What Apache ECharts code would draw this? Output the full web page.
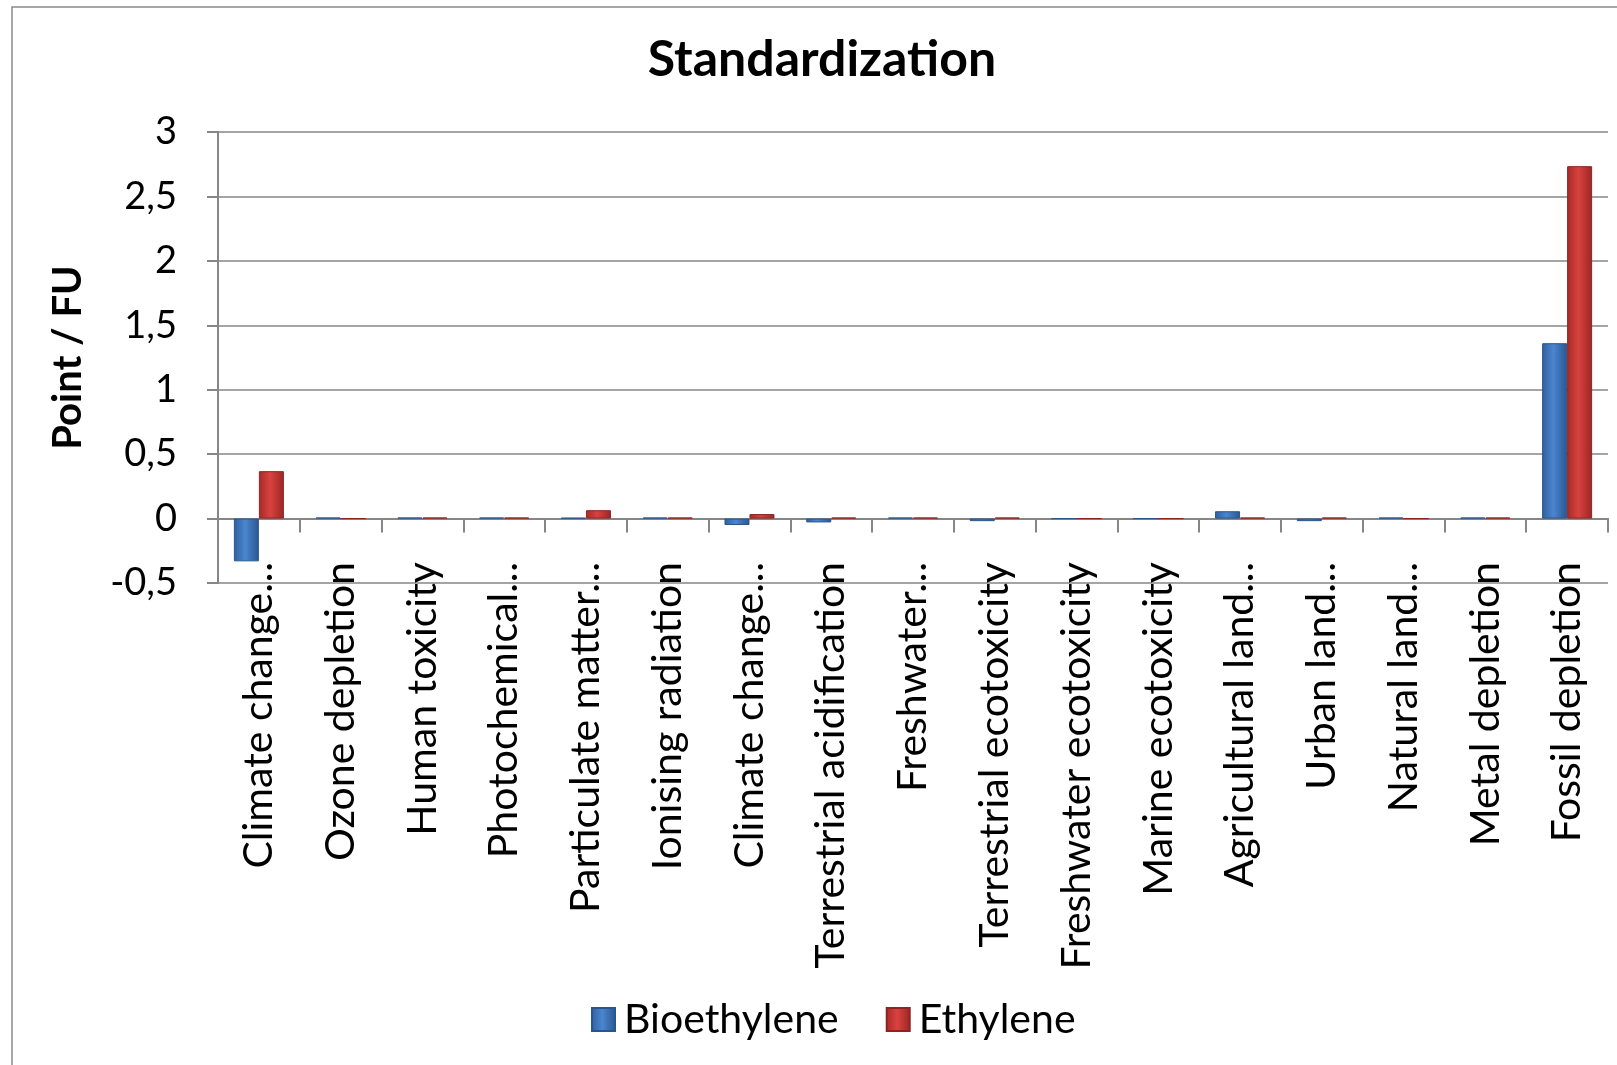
<!DOCTYPE html>
<html><head><meta charset="utf-8">
<script src="https://cdn.jsdelivr.net/npm/echarts@6/dist/echarts.min.js"></script>
<style>html,body{margin:0;padding:0;background:#fff}#c{width:1617px;height:1065px}</style>
</head><body><div id="c"></div>
<script>
var categories = ["Climate change\u2026","Ozone depletion","Human toxicity","Photochemical\u2026","Particulate matter\u2026","Ionising radiation","Climate change\u2026","Terrestrial acidification","Freshwater\u2026","Terrestrial ecotoxicity","Freshwater ecotoxicity","Marine ecotoxicity","Agricultural land\u2026","Urban land\u2026","Natural land\u2026","Metal depletion","Fossil depletion"];
var bioethylene = [-0.332, 0.008, 0.008, 0.008, 0.006, 0.008, -0.05, -0.03, 0.008, -0.02, 0, 0, 0.057, -0.02, 0.008, 0.008, 1.361];
var ethylene = [0.368, 0, 0.008, 0.008, 0.065, 0.008, 0.035, 0.008, 0.008, 0.008, 0, 0, 0.008, 0.008, 0, 0.008, 2.735];
var yTicks = {min: -0.5, max: 3, interval: 0.5};

var F = 'Lato, "Open Sans", sans-serif';
function grad(a,b,c){return new echarts.graphic.LinearGradient(0,0,1,0,[{offset:0,color:a},{offset:0.45,color:b},{offset:1,color:c}]);}
var chart = echarts.init(document.getElementById('c'), null, {renderer:'canvas'});
chart.setOption({
  animation:false,
  backgroundColor:'#fff',
  graphic:[{type:'rect',shape:{x:12,y:7,width:1620,height:1080},style:{fill:'none',stroke:'#8a8a8a',lineWidth:1.5},z:-1}],
  title:{text:'Standardization',left:817,textAlign:'center',top:30,textStyle:{fontFamily:F,fontWeight:'bold',fontSize:50,color:'#000'}},
  legend:{bottom:20,left:586,itemWidth:23,itemHeight:23,itemGap:47,icon:'rect',
    textStyle:{fontFamily:F,fontSize:41,color:'#000',padding:[0,0,0,4]},data:['Bioethylene','Ethylene']},
  grid:{left:218,right:9,top:132,bottom:482,containLabel:false},
  xAxis:{type:'category',data:categories,
    axisLine:{show:true,onZero:true,lineStyle:{color:'#868686',width:2}},
    axisTick:{show:true,length:14,lineStyle:{color:'#868686',width:2}},
    axisLabel:{rotate:90,margin:-21,interval:0,fontFamily:F,fontSize:41,color:'#000'}},
  yAxis:{type:'value',min:yTicks.min,max:yTicks.max,interval:yTicks.interval,
    name:'Point / FU',nameLocation:'middle',nameGap:130,nameRotate:90,
    nameTextStyle:{fontFamily:F,fontWeight:'bold',fontSize:40,color:'#000'},
    axisLine:{show:true,lineStyle:{color:'#868686',width:2}},
    axisTick:{show:true,length:11,lineStyle:{color:'#868686',width:2}},
    splitLine:{show:true,lineStyle:{color:'#868686',width:1.5}},
    axisLabel:{margin:41,fontFamily:F,fontSize:38,color:'#000',formatter:function(v){return String(v).replace('.',',');}}},
  series:[
    {name:'Bioethylene',type:'bar',data:bioethylene,barWidth:25,barGap:'0%',
      itemStyle:{color:grad('#2f5f9e','#4a86cf','#2a5690'),borderColor:'#2a558c',borderWidth:1}},
    {name:'Ethylene',type:'bar',data:ethylene,barWidth:25,barGap:'0%',
      itemStyle:{color:grad('#a52a28','#d9423f','#9a2624'),borderColor:'#8e2422',borderWidth:1}}
  ]
});
</script></body></html>
